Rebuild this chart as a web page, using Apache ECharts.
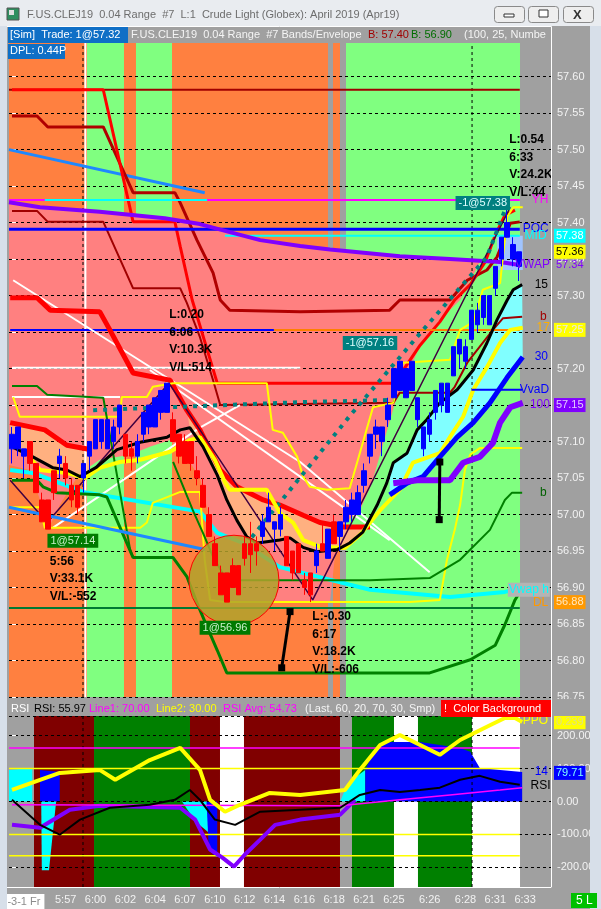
<!DOCTYPE html>
<html><head><meta charset="utf-8">
<script src="https://cdn.jsdelivr.net/npm/echarts/dist/echarts.min.js"></script>
<style>html,body{margin:0;padding:0;background:#A0A0A0;overflow:hidden}#c{width:601px;height:909px}</style>
</head><body><div id="c"></div>
<script>
// ---------------- DATA ----------------
const timeLabelIdx = [2,9,14,19,24,29,34,39,44,49,54,59,64,70,76,81,86];
const timeLabels = ['-3-1 Fr','5:57','6:00','6:02','6:04','6:07','6:10','6:12','6:14','6:16','6:18','6:21','6:25','6:26','6:28','6:31','6:33'];

const candleOpen = [57.09,57.09,57.08,57.10,57.07,57.02,57.02,57.06,57.07,57.07,57.04,57.04,57.05,57.08,57.09,57.10,57.09,57.10,57.12,57.11,57.09,57.08,57.11,57.12,57.12,57.14,57.14,57.13,57.11,57.10,57.10,57.06,57.04,57.00,56.96,56.92,56.92,56.93,56.93,56.96,56.96,56.96,56.97,56.99,56.98,56.98,56.97,56.95,56.96,56.91,56.92,56.93,56.96,56.94,56.99,56.97,56.99,57.00,57.00,57.04,57.08,57.11,57.10,57.13,57.16,57.17,57.16,57.17,57.13,57.09,57.11,57.14,57.15,57.14,57.19,57.22,57.21,57.24,57.26,57.27,57.26,57.31,57.35,57.38,57.35,57.34];
const candleClose = [57.11,57.12,57.09,57.07,57.03,56.99,56.98,57.03,57.08,57.05,57.02,57.01,57.07,57.10,57.13,57.13,57.13,57.12,57.15,57.08,57.08,57.10,57.14,57.15,57.16,57.17,57.18,57.10,57.08,57.07,57.07,57.05,57.01,56.97,56.93,56.89,56.88,56.90,56.89,56.94,56.945,56.95,56.99,57.01,56.99,57.00,56.93,56.92,56.92,56.90,56.89,56.95,56.95,56.98,56.96,56.99,57.01,57.02,57.03,57.06,57.11,57.12,57.12,57.15,57.20,57.21,57.20,57.21,57.16,57.12,57.13,57.17,57.18,57.18,57.23,57.24,57.23,57.28,57.28,57.30,57.30,57.34,57.38,57.40,57.37,57.36];
const candleLow = [57.07,57.08,57.05,57.06,57.03,56.99,56.98,57.02,57.05,57.04,57.01,57.00,57.03,57.06,57.09,57.09,57.09,57.09,57.11,57.07,57.06,57.07,57.10,57.11,57.12,57.13,57.14,57.10,57.07,57.07,57.06,57.04,57.01,56.97,56.93,56.89,56.88,56.90,56.89,56.93,56.92,56.93,56.96,56.99,56.95,56.97,56.93,56.91,56.92,56.89,56.88,56.92,56.95,56.94,56.96,56.95,56.98,56.99,57.00,57.03,57.07,57.09,57.08,57.12,57.16,57.17,57.16,57.17,57.12,57.08,57.10,57.13,57.14,57.14,57.19,57.20,57.20,57.24,57.25,57.26,57.26,57.30,57.34,57.38,57.34,57.32];
const candleHigh = [57.12,57.12,57.09,57.10,57.07,57.03,57.02,57.06,57.09,57.08,57.05,57.04,57.07,57.10,57.13,57.13,57.13,57.13,57.15,57.11,57.10,57.11,57.14,57.15,57.16,57.17,57.18,57.14,57.11,57.11,57.10,57.08,57.05,57.01,56.97,56.93,56.92,56.94,56.93,56.97,56.99,56.97,57.00,57.03,56.99,57.01,56.97,56.95,56.96,56.92,56.92,56.96,56.99,56.98,57.00,56.99,57.02,57.03,57.04,57.07,57.11,57.13,57.12,57.16,57.20,57.21,57.20,57.21,57.16,57.12,57.14,57.17,57.18,57.18,57.23,57.24,57.24,57.28,57.29,57.30,57.30,57.34,57.38,57.42,57.38,57.36];

const mainBands = [[-0.5,12.57,'o'],[12.57,18.77,'g'],[18.77,20.78,'o'],[20.78,26.82,'g'],[26.82,52.96,'o'],[53.80,54.97,'o'],[55.98,85.14,'g']];
const rsiBands = [[3.69,13.75,'r'],[13.75,29.83,'G'],[29.83,34.86,'r'],[34.86,38.88,'w'],[38.88,54.97,'r'],[56.98,64.02,'G'],[64.02,68.04,'w'],[68.04,77.09,'G'],[77.09,85.14,'w']];

const vwapLine = [[-0.5,57.428],[4.7,57.421],[14.7,57.415],[25.6,57.406],[31.5,57.398],[36.5,57.387],[41.6,57.376],[48.3,57.368],[53.3,57.363],[65.0,57.354],[73.4,57.350],[81.8,57.346],[85.1,57.342]];
const envBottom = [[-0.5,57.068],[3.0,57.061],[4.7,57.020],[6.0,56.979],[8.0,57.013],[10.6,57.047],[12.2,57.061],[14.7,57.075],[19.8,57.082],[23.1,57.093],[26.5,57.102],[29.0,57.082],[31.5,57.050],[33.2,56.993],[34.9,56.931],[35.9,56.880],[53.3,56.880],[54.6,56.979],[58.3,57.006],[60.3,57.043],[64.2,57.153],[68.4,57.232],[71.7,57.267],[75.1,57.294],[78.4,57.346],[79.3,57.351]];
const yhLevel = [[-0.5,57.431],[85.1,57.431]];
const cyanHigh = [[5.5,57.431],[32.7,57.431]];
const midLevel = [[35.7,57.382],[85.1,57.382]];
const pocLevel = [[-0.5,57.391],[85.1,57.391]];
const topLevel = [[-0.5,57.582],[85.1,57.582]];
const trend1 = [[-0.5,57.500],[32.3,57.441]];
const trend2 = [[-0.5,57.010],[32.3,56.952]];
const upperRed = [[0,57.582],[15.3,57.582],[20.3,57.401],[27.3,57.401],[28.2,57.367],[30.2,57.294],[34.4,57.180],[64.2,57.180],[65.0,57.191],[68.4,57.232],[71.7,57.264],[74.2,57.294],[76.8,57.315],[79.3,57.346],[81.0,57.383],[82.6,57.410],[84.3,57.417]];
const redEnvLow = [[-0.3,57.297],[4.2,57.297],[6.4,57.280],[14.7,57.278],[16.4,57.253],[20.3,57.194],[26.5,57.184],[29.3,57.143],[31.5,57.116],[34.9,57.061],[37.7,57.038],[42.1,57.020],[44.9,57.013],[48.8,56.999],[51.6,56.989],[55.5,56.983],[60.0,56.983]];
const redEnv2 = [[-0.3,57.126],[5.5,57.116],[9.2,57.095],[13.1,57.089]];
const darkRed1 = [[0,57.546],[4.2,57.546],[6.0,57.531],[15.3,57.531],[20.3,57.441],[27.3,57.441],[28.2,57.427],[31.0,57.376],[33.7,57.331],[34.9,57.294],[36.5,57.280],[48.3,57.278],[63.3,57.280],[65.0,57.294],[73.4,57.294],[76.3,57.321],[79.6,57.335],[81.3,57.353],[83.5,57.399],[85.1,57.401]];
const darkRed2 = [[0,57.416],[4.2,57.416],[6.0,57.401],[15.3,57.401],[20.3,57.310],[28.2,57.310],[29.3,57.290],[31.5,57.243],[33.7,57.184],[34.9,57.150],[63.9,57.153],[65.0,57.167],[73.4,57.167],[74.2,57.175],[76.3,57.208],[78.4,57.230],[80.6,57.253],[82.3,57.269],[85.5,57.271]];
const stepBlack = [[0.2,57.092],[3.5,57.079],[6.9,57.064],[9.2,57.061],[11.4,57.052],[14.2,57.065],[17.6,57.089],[21.5,57.099],[26.0,57.106],[28.2,57.116],[29.8,57.119],[32.0,57.093],[34.4,57.054],[36.0,57.020],[37.7,56.992],[39.4,56.969],[41.1,56.961],[44.9,56.965],[46.6,56.968],[48.8,56.955],[51.1,56.949],[54.5,56.952],[56.6,56.961],[58.8,56.976],[61.2,57.013],[62.8,57.043],[63.9,57.071],[66.2,57.084],[67.9,57.116],[69.5,57.130],[71.7,57.153],[74.6,57.171],[77.3,57.198],[79.6,57.235],[81.3,57.267],[83.0,57.294],[84.0,57.308],[85.5,57.315]];
const yellowThick = [[3.0,57.079],[4.7,57.061],[9.2,57.057],[12.2,57.050],[14.7,57.064],[18.1,57.072],[21.5,57.075],[26.5,57.086],[29.8,57.102],[31.5,57.106],[34.0,57.075],[35.7,57.044],[36.5,57.034],[42.7,57.034],[44.9,57.002],[47.1,56.989],[48.8,56.965],[51.6,56.956],[55.8,56.954],[58.3,56.972],[61.7,57.006],[65.0,57.034],[67.2,57.071],[71.7,57.084],[73.4,57.106],[75.6,57.134],[77.3,57.171],[79.6,57.202],[81.8,57.235],[83.5,57.253],[85.6,57.256]];
const yellowThinA = [[0.2,57.161],[1.3,57.134],[18.1,57.134],[18.4,57.161],[22.6,57.161],[23.6,57.175],[27.0,57.180],[42.7,57.180],[43.7,57.116],[45.4,57.112],[47.8,57.079],[48.8,57.052],[49.9,57.038],[52.8,57.034],[56.6,57.036],[60.5,57.147],[63.9,57.153],[65.5,57.208],[73.4,57.212],[75.1,57.253],[77.3,57.264],[78.9,57.308],[81.8,57.317],[83.0,57.408],[84.0,57.421],[85.6,57.421]];
const yellowThinB = [[-0.3,57.010],[4.7,57.010],[5.5,56.982],[21.5,56.982],[22.6,56.989],[23.6,57.016],[28.2,57.031],[31.5,57.031],[32.3,56.938],[33.2,56.883],[35.7,56.880],[66.7,56.880],[71.7,56.883],[72.9,56.938],[74.2,56.979],[75.1,57.013],[75.9,57.061],[76.8,57.082],[78.4,57.091],[85.5,57.091]];
const greenThick = [[0,57.047],[4.2,57.047],[5.2,57.038],[7.5,57.030],[14.7,57.027],[15.9,57.024],[20.3,56.941],[27.0,56.941],[29.3,56.915],[31.0,56.879],[32.7,56.846],[34.4,56.814],[36.0,56.783],[70.0,56.783],[76.8,56.801],[81.0,56.821],[82.6,56.849],[84.3,56.883],[85.5,56.899]];
const greenThin1 = [[0,57.176],[4.2,57.176],[5.9,57.164],[15.3,57.160],[19.8,56.952],[20.3,56.941]];
const greenThin2 = [[27.0,57.072],[30.3,57.006],[32.0,56.975],[33.7,56.942],[36.0,56.910],[60.0,56.910],[70.0,56.913],[75.1,56.938],[80.1,56.979],[82.6,57.020],[83.8,57.030],[85.5,57.030]];
const dlLevel = [[-0.5,56.872],[85.1,56.872]];
const orangeLevel = [[43.9,57.253],[85.1,57.253]];
const blueLevel = [[-0.3,57.253],[43.9,57.253]];
const vvadLevel = [[77.0,57.171],[85.5,57.171]];
const blueThick = [[63.3,57.027],[66.2,57.043],[68.9,57.052],[71.7,57.079],[74.6,57.106],[77.3,57.126],[80.1,57.153],[83.0,57.188],[85.6,57.216]];
const purpleThick = [[63.9,57.043],[67.9,57.047],[73.4,57.047],[75.6,57.071],[78.4,57.079],[80.6,57.098],[81.8,57.126],[83.5,57.147],[85.6,57.153]];
const cyanLine = [[-0.3,57.061],[3.5,57.057],[11.9,57.031],[31.5,57.004],[34.4,56.975],[38.7,56.961],[44.9,56.928],[60.0,56.897],[73.4,56.887],[82.6,56.894],[85.5,56.899]];
const zigzag = [[-0.3,57.047],[5.9,56.989],[26.3,57.180],[50.4,56.883],[83.5,57.421]];
const whiteDiag1 = [[0.2,57.321],[48.3,57.072],[70.0,56.921]];
const whiteDiag2 = [[23.1,57.198],[63.3,56.965]];
const whiteDiag3 = [[6.9,56.982],[31.5,57.119],[38.2,57.150]];
const whiteH1 = [[0,57.201],[48.3,57.201]];
const whiteH2 = [[0,57.161],[18.1,57.161]];
const dotsA = [[13.6,57.143],[48.3,57.154],[63.9,57.157]];
const dotsB = [[40.2,56.969],[57.0,57.139],[68.9,57.253],[79.6,57.353],[82.6,57.417]];
const arrow1 = [[45.2,56.790],[46.6,56.867]];
const arrow2 = [[71.6,56.993],[71.7,57.072]];
const peachLTop = [[-0.3,57.126],[5.5,57.116],[9.2,57.095],[13.1,57.089]];
const peachLBot = [[-0.3,57.092],[3.5,57.079],[6.9,57.064],[9.2,57.061],[11.4,57.052],[13.1,57.057]];
const peachRTop = [[29.3,57.143],[31.5,57.116],[34.9,57.061],[37.7,57.038],[42.1,57.020],[44.9,57.013],[48.8,56.999],[51.6,56.989],[55.5,56.983],[60.0,56.983]];
const peachRBot = [[29.8,57.119],[32.0,57.093],[34.4,57.054],[36.0,57.020],[37.7,56.992],[39.4,56.969],[41.1,56.961],[44.9,56.965],[46.6,56.968],[48.8,56.955],[51.1,56.949],[54.5,56.952],[56.6,56.961],[58.8,56.976],[60.0,56.983]];
const cyanFillTop = [[63.3,57.061],[63.9,57.071],[66.2,57.084],[67.9,57.116],[69.5,57.130],[71.7,57.153],[74.6,57.171],[77.3,57.198],[79.6,57.235],[81.3,57.267],[83.0,57.294],[84.0,57.308],[85.5,57.315]];
const cyanFillBot = [[63.3,57.027],[66.2,57.043],[68.9,57.052],[71.7,57.079],[74.6,57.106],[77.3,57.126],[80.1,57.153],[83.0,57.188],[85.6,57.216]];
const lastZoneTop = [[81.3,57.382],[85.6,57.382]];
const lastZoneBot = [[81.3,57.335],[85.6,57.335]];
const targetCircle = [[37.2,56.910]];

const swingText = ['L:0.20\n6:06\nV:10.3K\nV/L:514','L:-0.60\n5:56\nV:33.1K\nV/L:-552','L:-0.30\n6:17\nV:18.2K\nV/L:-606','L:0.54\n6:33\nV:24.2K\nV/L:44'];
const swingBar = [26,6,50,83];
const swingPrice = [57.18,56.98,56.88,57.42];
const swingIsHigh = [1,0,0,1];
const tradeText = ['1@57.14','1@56.96','-1@57.16','-1@57.38'];
const tradeAt = [[10.2,56.964],[35.7,56.845],[60.0,57.235],[78.9,57.427]];
const tradeSide = [1,1,-1,-1];
const tagText = ['YH','POC','MID','VWAP','15','b','17','30','VvaD','100','b','Vwap h','DL'];
const tagAt = [[87.1,57.431],[85.6,57.391],[85.9,57.382],[84.3,57.342],[87.6,57.315],[88.5,57.271],[87.9,57.256],[87.6,57.216],[85.1,57.171],[86.8,57.150],[88.5,57.030],[83.1,56.897],[87.3,56.879]];
const tagColor = ['#FF00FF','#0000FF','#00FFFF','#8000FF','#000000','#A00000','#FFB000','#0000FF','#0000FF','#8000FF','#006000','#00FFFF','#FF9900'];
const boxText = ['57.38','57.36','57.34','57.25','57.15','56.88'];
const boxPrice = [57.382,57.360,57.342,57.253,57.150,56.880];
const boxBg = ['#00FFFF','#FFFF00',null,'#FFFF00','#8000FF','#FF9900'];
const boxFg = ['#FFFFFF','#000000','#8000FF','#E8E8E8','#E0C8FF','#FFE8C0'];

const ppoLine = [[0,35],[4.7,66],[8,87],[14.7,96],[17.3,66],[23.1,126],[28.2,163],[31.5,96],[33.2,5],[35.7,-31],[38.2,-10],[43.2,26],[48.3,20],[55.8,35],[58.3,96],[61.7,172],[65,202],[68.4,172],[71.7,142],[75.1,187],[80.1,232],[82.6,254],[84.3,254],[85.5,242]];
const oscPurple = [[0,-71],[4.7,-80],[9.7,-25],[14.7,-13],[28.2,-19],[30.7,-55],[33.2,-146],[35.2,-170],[37.2,-198],[39,-162],[41.6,-116],[44.1,-71],[48.3,-55],[55,-40],[57.5,5]];
const rsiLine = [[0,5],[4.7,-71],[8,-101],[11.4,-55],[16.4,-19],[23.1,-10],[27.3,5],[29.8,35],[31.5,5],[34,-55],[37.4,-71],[41.6,-31],[48.3,-25],[55,-19],[58.3,20],[61.7,35],[65,29],[68.4,35],[71.7,42],[75.1,66],[78.4,78],[81.8,60],[85.1,51]];
const rsiAvg = [[0,-10],[55,-13],[65,5],[73.4,20],[81.8,35],[85.5,42]];
const histBlueR = [[59.2,96],[60.8,157],[63.3,181],[68.4,181],[71.7,172],[75.1,163],[76.8,151],[78.4,102],[81.8,96],[85.5,90]];
const histCyanR = [[55,0],[55.8,35],[57,66],[59.2,96]];
const histCyanL = [[-0.5,96],[3.4,102]];
const histBlueL = [[4.7,96],[8,90]];
const histSpikeTop = [[4.9,0],[7.4,0]];
const histSpikeBot = [[4.9,0],[5.0,-209],[6.2,-209],[7.4,0]];
const histMidCyanTop = [[28.5,0],[33.7,0]];
const histMidCyanBot = [[28.5,0],[30.7,-60],[33.0,-95],[33.7,0]];
const histMidBlueTop = [[32.6,0],[34.4,0]];
const histMidBlueBot = [[32.6,0],[33.0,-150],[34.4,-170],[34.4,0]];
const rsiLevels = [100,-100,-165];
const ppoLevel = 163;
const rsiBoxText = ['0.239','79.71'];
const rsiBoxVal = [241,87];
const rsiTagText = ['PPO','14','RSI'];
const rsiTagAt = [[85.6,245],[87.6,90],[86.9,48]];
const rsiTagColor = ['#FFFF00','#0000FF','#000000'];

// ---------------- RENDER ----------------
const FONT = '"Liberation Sans", Arial, sans-serif';
const NCAT = 91;
const COL = {o:'#FF8040', g:'#80FF80', r:'#800000', G:'#008000', w:'#FFFFFF'};
const catMain = Array.from({length:NCAT}, (_, i) => 'c' + i);
const catTime = Array.from({length:NCAT}, () => '');
timeLabelIdx.forEach((ix, k) => { catTime[ix] = timeLabels[k]; });

function ln(data, color, width, z, extra, rsi) {
  return Object.assign({type:'line', xAxisIndex: rsi ? 3 : 1, yAxisIndex: rsi ? 1 : 0, data, symbol:'none',
    silent:true, animation:false, z: z || 4, lineStyle:{color, width}}, extra || {});
}
function poly(top, bot, fill, z, rsi) {
  const pts = top.concat(bot.slice().reverse());
  return {type:'custom', xAxisIndex: rsi ? 3 : 1, yAxisIndex: rsi ? 1 : 0, z, silent:true, animation:false, clip:true,
    data:[[0,0]], renderItem:(p, api) => ({type:'polygon', shape:{points: pts.map(q => api.coord(q))}, style:{fill}})};
}
function areaToZero(top, fill, z) {
  const first = top[0][0], last = top[top.length-1][0];
  return poly(top, [[first,0],[last,0]], fill, z, true);
}
function bands(list, rsi, z) {
  return {type:'custom', xAxisIndex: rsi ? 3 : 1, yAxisIndex: rsi ? 1 : 0, z, silent:true, animation:false,
    data: list.map(b => [b[0], b[1]]),
    renderItem:(p, api) => {
      const cs = p.coordSys;
      const x0 = api.coord([api.value(0), rsi ? 0 : 57])[0];
      const x1 = api.coord([api.value(1), rsi ? 0 : 57])[0];
      return {type:'rect', shape:{x:x0, y:cs.y, width:x1 - x0, height:cs.height}, style:{fill: COL[list[p.dataIndex][2]]}};
    }};
}
function vline(v, rsi, color, width, type) {
  const lo = rsi ? -260 : 56.75, hi = rsi ? 260 : 57.668;
  return ln([[v, lo],[v, hi]], color, width, 3.5, {lineStyle:{color, width, type: type || 'solid'}}, rsi);
}

const series = [];
series.push(bands(mainBands, false, 1));
series.push(bands(rsiBands, true, 1));
series.push(poly(vwapLine.slice(0, 11).concat([[79.3,57.347]]), envBottom, '#FF8080', 2));
series.push(poly(peachLTop, peachLBot, '#FFB080', 2.1));
series.push(poly(peachRTop, peachRBot, '#FFB080', 2.1));
series.push(poly(cyanFillTop, cyanFillBot, '#80FFFF', 2.1));
series.push(poly(lastZoneTop, lastZoneBot, '#A0C4FF', 2.1));
series.push(vline(12.3, false, '#FFFFFF', 2));
series.push(vline(11.9, false, '#000000', 1, [3,3]));
series.push(vline(77.1, false, '#000000', 1, [3,3]));
series.push(vline(11.9, true, '#000000', 1, [3,3]));
series.push(vline(77.1, true, '#000000', 1, [3,3]));
series.push(ln(topLevel, '#A00000', 2));
series.push(ln(trend1, '#1E88FF', 3));
series.push(ln(darkRed2, '#A00000', 2));
series.push(ln(darkRed1, '#B00000', 3));
series.push(ln(upperRed, '#FF0000', 3));
series.push(ln(yhLevel, '#FF00FF', 2));
series.push(ln(cyanHigh, '#00FFFF', 2));
series.push(ln(pocLevel, '#0000FF', 3));
series.push(ln(midLevel, '#00FFFF', 2));
series.push(ln(vwapLine, '#8000FF', 4));
series.push(ln(blueLevel, '#0000FF', 2));
series.push(ln(orangeLevel, '#FF8000', 2));
series.push(ln(whiteH1, '#FFFFFF', 2));
series.push(ln(whiteH2, '#FFFFFF', 2));
series.push(ln(whiteDiag1, '#FFFFFF', 2));
series.push(ln(whiteDiag2, '#FFFFFF', 2));
series.push(ln(whiteDiag3, '#FFFFFF', 2));
series.push(ln(redEnvLow, '#FF0000', 5));
series.push(ln(redEnv2, '#FF0000', 5));
series.push(ln(cyanLine, '#00FFFF', 4));
series.push(ln(yellowThinA, '#FFFF00', 2));
series.push(ln(yellowThinB, '#FFFF00', 2));
series.push(ln(greenThin1, '#008000', 2));
series.push(ln(greenThin2, '#008000', 2));
series.push(ln(greenThick, '#008000', 3));
series.push(ln(dlLevel, '#007A33', 2));
series.push(ln(zigzag, '#400040', 1.5));
series.push(ln(dotsA, '#008080', 4, 4, {lineStyle:{color:'#008080', width:4, type:[4,6]}}));
series.push(ln(dotsB, '#008080', 4, 4, {lineStyle:{color:'#008080', width:4, type:[4,6]}}));
series.push(ln(yellowThick, '#FFFF00', 4));
series.push(ln(stepBlack, '#000000', 3));
series.push(ln(blueThick, '#0000FF', 5));
series.push(ln(purpleThick, '#8000FF', 6));
series.push(ln(vvadLevel, '#0000FF', 2));
series.push(ln(trend2, '#1E88FF', 3));
series.push(ln(arrow1, '#000000', 3, 4.5, {symbol:['none','circle'], symbolSize:7, itemStyle:{color:'#000'}, showSymbol:true}));
series.push(ln(arrow2, '#000000', 3, 4.5, {symbol:['none','circle'], symbolSize:7, itemStyle:{color:'#000'}, showSymbol:true}));
series.push({type:'custom', xAxisIndex:1, yAxisIndex:0, z:5, silent:true, animation:false, data: targetCircle,
  renderItem:(p, api) => { const c = api.coord([api.value(0), api.value(1)]);
    return {type:'circle', shape:{cx:c[0], cy:c[1], r:45}, style:{fill:'rgba(176,162,44,0.85)', stroke:'#FF0000', lineWidth:1}}; }});
series.push({type:'candlestick', xAxisIndex:0, yAxisIndex:0, z:6, silent:true, animation:false, barWidth:5,
  data: candleOpen.map((o, i) => [o, candleClose[i], candleLow[i], candleHigh[i]]),
  itemStyle:{color:'#0000FF', color0:'#FF0000', borderColor:'#0000FF', borderColor0:'#FF0000', borderWidth:1}});
series.push({type:'custom', xAxisIndex:1, yAxisIndex:0, z:8, silent:true, animation:false, clip:true,
  data: swingBar.map((b, i) => [b, swingPrice[i], swingIsHigh[i]]),
  renderItem:(p, api) => { const c = api.coord([api.value(0), api.value(1)]);
    return {type:'text', x:c[0] + 2, y:c[1] + (api.value(2) ? -77 : 6),
      style:{text: swingText[p.dataIndex], fill:'#000', font:'bold 12px ' + FONT, lineHeight:17.5, textVerticalAlign:'top', verticalAlign:'top'}}; }});
series.push({type:'custom', xAxisIndex:1, yAxisIndex:0, z:8, silent:true, animation:false,
  data: tradeAt,
  renderItem:(p, api) => { const c = api.coord([api.value(0), api.value(1)]);
    const buy = tradeSide[p.dataIndex] > 0;
    return {type:'text', x:c[0], y:c[1], style:{text: tradeText[p.dataIndex], fill: buy ? '#C8F0C8' : '#E0FFFF', font:'11px ' + FONT,
      backgroundColor: buy ? '#007A00' : '#008080', padding:[2,3,1,3], textAlign:'center', align:'center', textVerticalAlign:'middle', verticalAlign:'middle'}}; }});
series.push({type:'custom', xAxisIndex:1, yAxisIndex:0, z:8, silent:true, animation:false,
  data: tagAt,
  renderItem:(p, api) => { const c = api.coord([api.value(0), api.value(1)]);
    const t = tagText[p.dataIndex];
    return {type:'text', x:c[0], y:c[1], style:{text:t, fill: tagColor[p.dataIndex], font:'12px ' + FONT,
      backgroundColor: t === 'Vwap h' ? '#B4B4B4' : null, padding: t === 'Vwap h' ? [1,1] : 0, textVerticalAlign:'middle', verticalAlign:'middle'}}; }});
series.push({type:'custom', xAxisIndex:1, yAxisIndex:0, z:9, silent:true, animation:false,
  data: boxPrice.map(v => [0, v]),
  renderItem:(p, api) => { const cs = p.coordSys; const c = api.coord([0, api.value(1)]); const i = p.dataIndex;
    return {type:'text', x:cs.x + cs.width + 2, y:c[1], style:{text: boxText[i], fill: boxFg[i], font:'11px ' + FONT,
      backgroundColor: boxBg[i], padding:[2,2,1,2], textVerticalAlign:'middle', verticalAlign:'middle'}}; }});
series.push(areaToZero(histCyanR, '#00FFFF', 2));
series.push(areaToZero(histBlueR, '#0000FF', 2));
series.push(areaToZero(histCyanL, '#00FFFF', 2));
series.push(areaToZero(histBlueL, '#0000FF', 2));
series.push(poly(histSpikeTop, histSpikeBot, '#00FFFF', 2, true));
series.push(poly(histMidCyanTop, histMidCyanBot, '#00FFFF', 2, true));
series.push(poly(histMidBlueTop, histMidBlueBot, '#0000FF', 2.1, true));
rsiLevels.forEach(v => series.push(ln([[-0.5, v],[85.1, v]], '#FFFF00', 1.5, 4, null, true)));
series.push(ln([[-0.5, ppoLevel],[85.1, ppoLevel]], '#FF00FF', 1.5, 4, null, true));
series.push(ln(oscPurple, '#8000FF', 4, 4, null, true));
series.push(ln(rsiAvg, '#FF00FF', 1.5, 4, null, true));
series.push(ln(rsiLine, '#000000', 2, 4, null, true));
series.push(ln(ppoLine, '#FFFF00', 4, 4, null, true));
series.push({type:'custom', xAxisIndex:3, yAxisIndex:1, z:8, silent:true, animation:false, data: rsiTagAt,
  renderItem:(p, api) => { const c = api.coord([api.value(0), api.value(1)]);
    return {type:'text', x:c[0], y:c[1], style:{text: rsiTagText[p.dataIndex], fill: rsiTagColor[p.dataIndex], font:'12px ' + FONT, textVerticalAlign:'middle', verticalAlign:'middle'}}; }});
series.push({type:'custom', xAxisIndex:3, yAxisIndex:1, z:9, silent:true, animation:false,
  data: rsiBoxVal.map(v => [0, v]),
  renderItem:(p, api) => { const cs = p.coordSys; const c = api.coord([0, api.value(1)]); const i = p.dataIndex;
    return {type:'text', x:cs.x + cs.width + 2, y:c[1], style:{text: rsiBoxText[i], fill: i ? '#80FFFF' : '#E0E080', font:'11px ' + FONT,
      backgroundColor: i ? '#0000FF' : '#FFFF00', padding:[2,2,1,2], textVerticalAlign:'middle', verticalAlign:'middle'}}; }});

function txt(x, y, text, fill, size, extra) {
  return Object.assign({type:'text', x, y, z:110, silent:true, style:{text, fill, font:(size || 11) + 'px ' + FONT, textVerticalAlign:'middle', verticalAlign:'middle'}}, extra || {});
}
function rect(x, y, w, h, fill, extra) {
  return Object.assign({type:'rect', z:105, silent:true, shape:{x, y, width:w, height:h}, style:{fill}}, extra || {});
}
const graphics = [
  rect(0, 0, 601, 26, '#E9ECF0'),
  rect(0, 26, 7, 883, '#D7DFE9'),
  rect(590, 26, 11, 883, '#D7DFE9'),
  rect(7, 8, 12, 12, '#2F8F5F', {style:{fill:'#2F8F5F', stroke:'#555', lineWidth:1}}),
  rect(9, 10, 5, 5, '#E0E0E0'),
  txt(27, 15, 'F.US.CLEJ19  0.04 Range  #7  L:1  Crude Light (Globex): April 2019 (Apr19)', '#6D6D6D', 11),
  rect(494, 6, 30, 16, '#EDEDED', {shape:{x:494.5, y:6.5, width:30, height:16, r:3}, style:{fill:'#EEEEEE', stroke:'#8A8A8A', lineWidth:1}}),
  rect(528, 6, 30, 16, '#EDEDED', {shape:{x:528.5, y:6.5, width:30, height:16, r:3}, style:{fill:'#EEEEEE', stroke:'#8A8A8A', lineWidth:1}}),
  rect(563, 6, 30, 16, '#EDEDED', {shape:{x:563.5, y:6.5, width:30, height:16, r:3}, style:{fill:'#EEEEEE', stroke:'#8A8A8A', lineWidth:1}}),
  rect(504, 14, 10, 3, '#FFF', {style:{fill:'#FFFFFF', stroke:'#333', lineWidth:1}, z:106}),
  rect(539, 10, 9, 7, '#FFF', {style:{fill:'#FFFFFF', stroke:'#333', lineWidth:1}, z:106}),
  txt(573, 15, 'X', '#333', 13, {style:{text:'X', fill:'#333', font:'bold 13px ' + FONT, textVerticalAlign:'middle', verticalAlign:'middle'}}),
  rect(7, 27, 544, 16, '#A0A0A0'),
  rect(8, 27, 120, 16, '#0F6FC6'),
  txt(10, 35, '[Sim]  Trade: 1@57.32', '#FFFFFF'),
  txt(131, 35, 'F.US.CLEJ19  0.04 Range  #7 Bands/Envelope', '#F4F4F4'),
  txt(368, 35, 'B: 57.40', '#A00000'),
  txt(411, 35, 'B: 56.90', '#006E00'),
  txt(464, 35, '(100, 25, Numbe', '#F4F4F4'),
  rect(8, 44, 57, 15, '#0F6FC6'),
  txt(10, 51, 'DPL: 0.44P', '#FFFFFF'),
  rect(7, 698, 544, 18, '#A0A0A0'),
  rect(552, 699, 38, 17, '#A0A0A0'),
  txt(11, 709, 'RSI', '#FFFFFF'),
  txt(34, 709, 'RSI: 55.97', '#000000'),
  txt(89, 709, 'Line1: 70.00', '#FF00FF'),
  txt(156, 709, 'Line2: 30.00', '#FFFF00'),
  txt(223, 709, 'RSI Avg: 54.73', '#FF00FF'),
  txt(305, 709, '(Last, 60, 20, 70, 30, Smp)', '#F4F4F4'),
  rect(441, 700, 110, 17, '#FF0000'),
  txt(444, 709, '!  Color Background', '#FFFFFF'),
  {type:'polyline', z:112, silent:true, shape:{points:[[7,26.5],[551.5,26.5],[551.5,887.5],[7,887.5]]}, style:{stroke:'#FFFFFF', lineWidth:1, fill:null}},
  rect(571, 893, 26, 15, '#00C000'),
  txt(576, 901, '5 L', '#FFFFFF', 12)
];

const chart = echarts.init(document.getElementById('c'), null, {renderer:'canvas'});
chart.setOption({
  animation:false,
  backgroundColor:'#A0A0A0',
  grid:[
    {left:9, top:27, width:543, height:670, outerBoundsMode:'none', containLabel:false},
    {left:9, top:716, width:543, height:171, outerBoundsMode:'none', containLabel:false}
  ],
  xAxis:[
    {type:'category', gridIndex:0, data:catMain, show:false, boundaryGap:true},
    {type:'value', gridIndex:0, min:-0.5, max:90.5, show:false, position:'top'},
    {type:'category', gridIndex:1, data:catTime, boundaryGap:true, axisLine:{show:false}, axisTick:{show:false},
      axisLabel:{interval:0, color:'#F2F2F2', fontSize:11, fontFamily:'Liberation Sans', margin:7,
        formatter:(v, i) => i === 2 ? '{w|' + v + '}' : v,
        rich:{w:{backgroundColor:'#FFFFFF', color:'#8C8C8C', fontSize:11, fontFamily:'Liberation Sans', padding:[2,4,2,4]}}}},
    {type:'value', gridIndex:1, min:-0.5, max:90.5, show:false, position:'top'}
  ],
  yAxis:[
    {type:'value', gridIndex:0, position:'right', min:56.75, max:57.668, interval:0.05, z:3,
      axisLine:{show:false}, axisTick:{show:true, length:4, lineStyle:{color:'#FFFFFF'}},
      axisLabel:{color:'#F2F2F2', fontSize:11, fontFamily:'Liberation Sans', margin:5, showMaxLabel:false,
        formatter:v => v > 57.62 ? '' : v.toFixed(2)},
      splitLine:{show:true, lineStyle:{color:'#000000', width:1, type:[3,3]}}},
    {type:'value', gridIndex:1, position:'right', min:-260, max:260, splitNumber:5, z:3,
      axisLine:{show:false}, axisTick:{show:true, length:4, lineStyle:{color:'#FFFFFF'}},
      axisLabel:{color:'#F2F2F2', fontSize:11, fontFamily:'Liberation Sans', margin:5, showMaxLabel:false, showMinLabel:false,
        formatter:v => (Math.abs(v) > 250 ? '' : v.toFixed(2))},
      splitLine:{show:true, lineStyle:{color:'#000000', width:1, type:[3,3]}}}
  ],
  graphic: graphics,
  series
});
</script></body></html>
